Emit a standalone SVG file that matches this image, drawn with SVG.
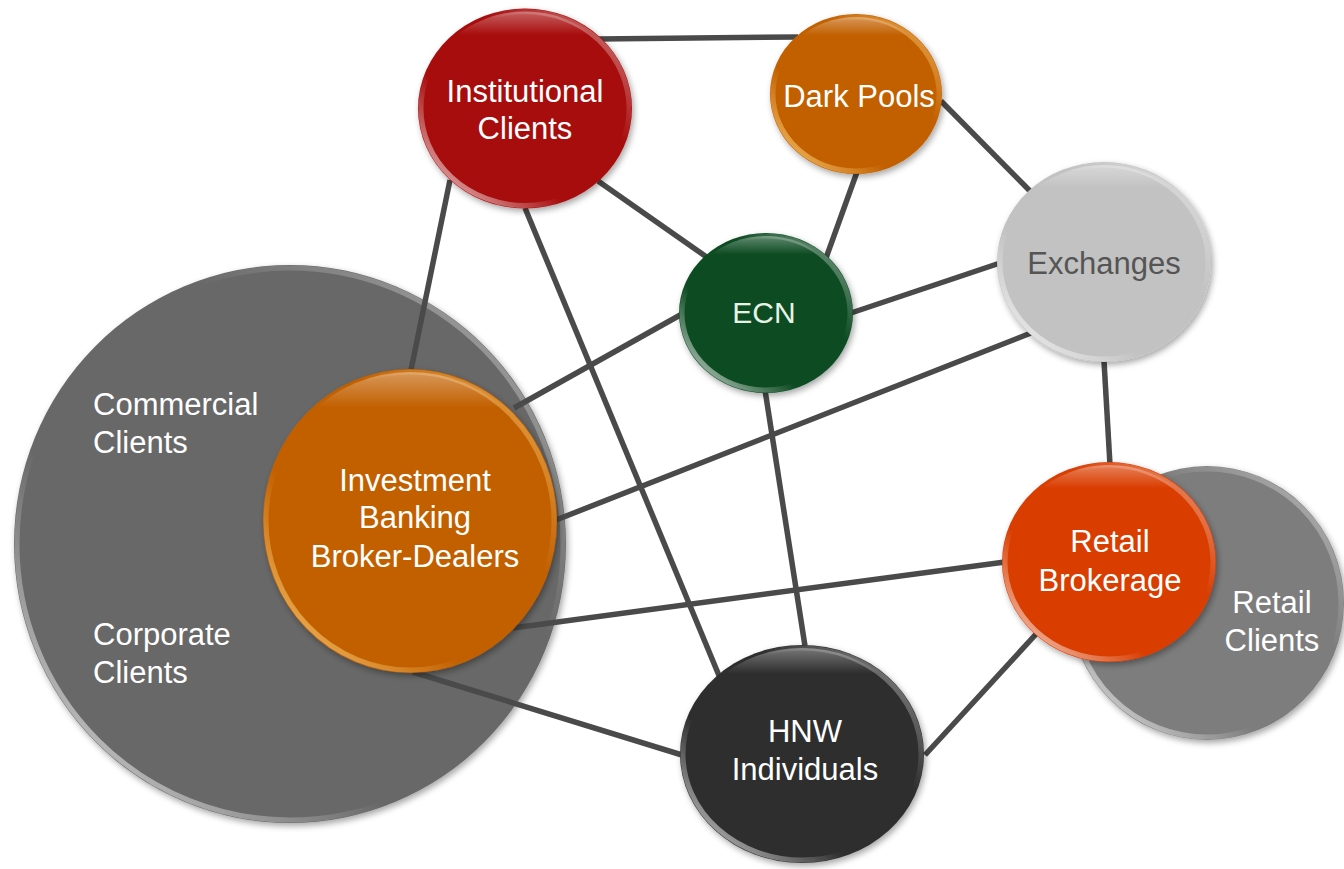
<svg xmlns="http://www.w3.org/2000/svg" width="1344" height="869" viewBox="0 0 1344 869">
<defs>
<filter id="sh" x="-10%" y="-10%" width="125%" height="125%">
<feDropShadow dx="2" dy="3" stdDeviation="3" flood-color="#000" flood-opacity="0.35"/>
</filter>
<linearGradient id="rimW" x1="0" y1="1" x2="1" y2="0">
<stop offset="0" stop-color="#fff" stop-opacity="0.85"/>
<stop offset="0.35" stop-color="#fff" stop-opacity="0"/>
<stop offset="0.65" stop-color="#fff" stop-opacity="0"/>
<stop offset="1" stop-color="#fff" stop-opacity="0.5"/>
</linearGradient>
<linearGradient id="rimY" x1="0" y1="1" x2="1" y2="0">
<stop offset="0" stop-color="#ffd27a" stop-opacity="0.95"/>
<stop offset="0.35" stop-color="#ffd27a" stop-opacity="0"/>
<stop offset="0.65" stop-color="#ffd27a" stop-opacity="0"/>
<stop offset="1" stop-color="#ffd27a" stop-opacity="0.7"/>
</linearGradient>
<linearGradient id="topHL" x1="0" y1="0" x2="0" y2="1">
<stop offset="0" stop-color="#fff" stop-opacity="0.35"/>
<stop offset="0.12" stop-color="#fff" stop-opacity="0"/>
<stop offset="1" stop-color="#fff" stop-opacity="0"/>
</linearGradient>
</defs>
<style>
text{font-family:"Liberation Sans",Arial,sans-serif;font-size:31px;fill:#fff;text-anchor:middle}
.lt{text-anchor:start}
.ln line{stroke:#4a4a4a;stroke-width:5.5;stroke-linecap:butt}
.rw{fill:none;stroke:url(#rimW);stroke-width:5}
.ry{fill:none;stroke:url(#rimY);stroke-width:5}
.tp{fill:url(#topHL)}
</style>
<rect width="1344" height="869" fill="#fff"/>
<g id="commercial-corporate-clients">
<ellipse cx="290" cy="544" rx="276" ry="279" fill="#686868" filter="url(#sh)"/>
<ellipse cx="290" cy="544" rx="273" ry="276" class="rw"/>
<text class="lt" x="93" y="415">Commercial</text>
<text class="lt" x="93" y="453">Clients</text>
<text class="lt" x="93" y="645">Corporate</text>
<text class="lt" x="93" y="683">Clients</text>
</g>
<g id="retail-clients">
<ellipse cx="1207" cy="603" rx="137" ry="137" fill="#7d7d7d" filter="url(#sh)"/>
<ellipse cx="1207" cy="603" rx="134" ry="134" class="rw"/>
<text x="1272" y="613">Retail</text>
<text x="1272" y="651">Clients</text>
</g>
<g id="connectors" class="ln">
<line x1="598" y1="39" x2="798" y2="37"/>
<line x1="598" y1="181" x2="708" y2="258"/>
<line x1="450" y1="180" x2="411" y2="370"/>
<line x1="525" y1="208" x2="720" y2="678"/>
<line x1="857" y1="172" x2="826" y2="258"/>
<line x1="941" y1="101" x2="1032" y2="193"/>
<line x1="851" y1="313" x2="1000" y2="263"/>
<line x1="682" y1="314" x2="514" y2="408"/>
<line x1="765" y1="390" x2="805" y2="646"/>
<line x1="1031" y1="333" x2="556" y2="520"/>
<line x1="1104" y1="361" x2="1110" y2="465"/>
<line x1="1005" y1="562" x2="513" y2="628"/>
<line x1="1037" y1="633" x2="925" y2="755"/>
<line x1="413" y1="672" x2="682" y2="755"/>
</g>
<g id="institutional-clients">
<ellipse cx="525" cy="108.5" rx="107" ry="100" fill="#a80a0a" filter="url(#sh)"/>
<ellipse cx="525" cy="108.5" rx="104" ry="97" class="rw"/>
<ellipse cx="525" cy="108.5" rx="104" ry="97" class="tp"/>
<text x="525" y="102">Institutional</text>
<text x="525" y="139">Clients</text>
</g>
<g id="dark-pools">
<ellipse cx="856" cy="94" rx="86" ry="80" fill="#c26100" filter="url(#sh)"/>
<ellipse cx="856" cy="94" rx="83" ry="77" class="ry"/>
<ellipse cx="856" cy="94" rx="83" ry="77" class="tp"/>
<text x="859" y="107">Dark Pools</text>
</g>
<g id="ecn">
<ellipse cx="766" cy="313" rx="87" ry="80" fill="#0a4b24" filter="url(#sh)"/>
<ellipse cx="766" cy="313" rx="84" ry="77" class="rw"/>
<ellipse cx="766" cy="313" rx="84" ry="77" class="tp"/>
<text x="764" y="323" style="font-size:30px;fill:#e6f3e6">ECN</text>
</g>
<g id="exchanges">
<ellipse cx="1104" cy="262" rx="107" ry="100" fill="#c2c2c2" filter="url(#sh)"/>
<ellipse cx="1104" cy="262" rx="104" ry="97" class="rw"/>
<ellipse cx="1104" cy="262" rx="104" ry="97" class="tp"/>
<text x="1104" y="274" style="fill:#555">Exchanges</text>
</g>
<g id="investment-banking">
<ellipse cx="410" cy="521" rx="147" ry="152" fill="#c26100" filter="url(#sh)"/>
<ellipse cx="410" cy="521" rx="144" ry="149" class="ry"/>
<ellipse cx="410" cy="521" rx="144" ry="149" class="tp"/>
<text x="415" y="491">Investment</text>
<text x="415" y="528">Banking</text>
<text x="415" y="567">Broker-Dealers</text>
</g>
<g id="retail-brokerage">
<ellipse cx="1109" cy="562" rx="107" ry="100" fill="#d93c00" filter="url(#sh)"/>
<ellipse cx="1109" cy="562" rx="104" ry="97" class="rw"/>
<ellipse cx="1109" cy="562" rx="104" ry="97" class="tp"/>
<text x="1110" y="552">Retail</text>
<text x="1110" y="591">Brokerage</text>
</g>
<g id="hnw-individuals">
<ellipse cx="802" cy="754" rx="122" ry="109" fill="#2e2e2e" filter="url(#sh)"/>
<ellipse cx="802" cy="754" rx="119" ry="106" class="rw"/>
<ellipse cx="802" cy="754" rx="119" ry="106" class="tp"/>
<text x="805" y="742">HNW</text>
<text x="805" y="780">Individuals</text>
</g>
</svg>
